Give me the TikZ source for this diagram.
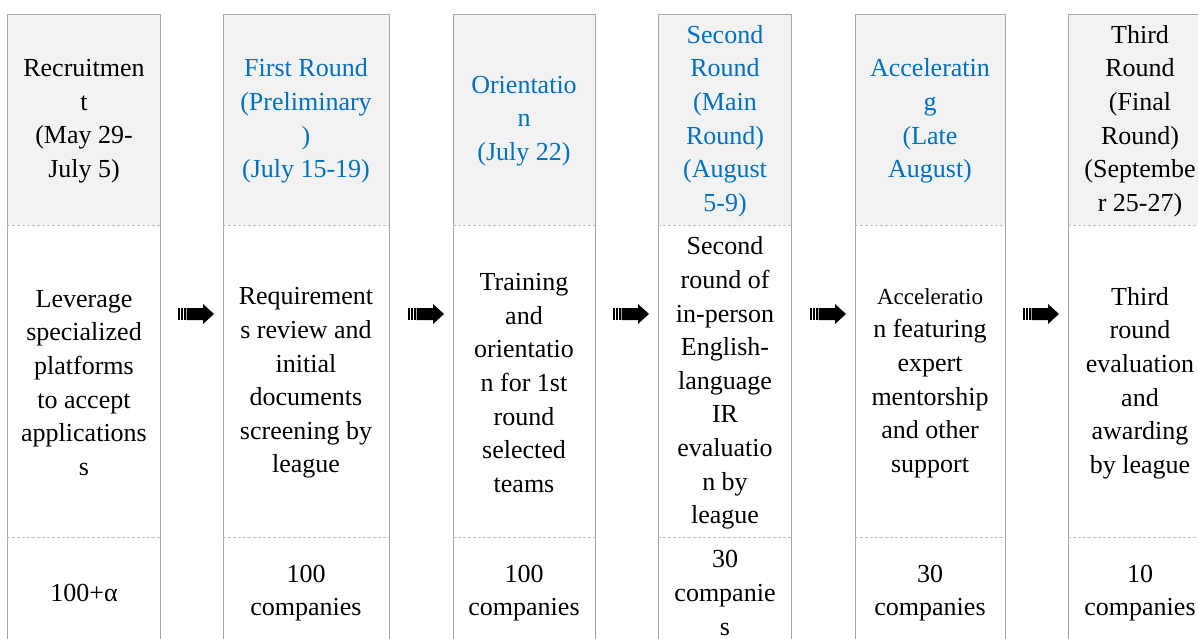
\documentclass[tikz,border=0pt]{standalone}
\usepackage{fontspec}
\setmainfont{Liberation Serif}
\definecolor{framegray}{HTML}{A6A6A6}
\definecolor{headfill}{HTML}{F2F2F2}
\definecolor{stageblue}{HTML}{0070C0}
\tikzset{
  frame/.style={draw=framegray, line width=1pt},
  sepline/.style={draw=framegray!70, line width=0.8pt, densely dashed},
  celltext/.style={align=center, inner sep=0pt,
                   font=\fontsize{26}{33.6}\selectfont},
  bluetext/.style={celltext, text=stageblue},
  stripearrow/.pic={
    \fill (-18,-6) rectangle (-16.5,6);
    \fill (-15,-6) rectangle (-13.5,6);
    \fill (-12,-6) rectangle (-10.5,6);
    \fill (-9.5,-6) -- (7,-6) -- (7,-10) -- (18,0) -- (7,10) -- (7,6)
          -- (-9.5,6) -- cycle;
  }
}
\begin{document}
\begin{tikzpicture}[x=1pt, y=-1pt]
	\useasboundingbox (0,0) rectangle (1198,639);
	% column frames
	\foreach \xl/\xr in {7/160, 223/389, 453/595, 658/791, 855/1005} {
		\fill[headfill] (\xl,15) rectangle (\xr,225);
		\draw[frame] (\xl,639) -- (\xl,15) -- (\xr,15) -- (\xr,639);
		\draw[sepline] (\xl,225) -- (\xr,225);
		\draw[sepline] (\xl,537) -- (\xr,537);
	}
	\fill[headfill] (1068,15) rectangle (1198,225);
	\draw[frame] (1068,639) -- (1068,15) -- (1198,15);
	\draw[sepline] (1068,225) -- (1198,225);
	\draw[sepline] (1068,537) -- (1198,537);
	% headers
	\node[celltext] (h1) at (84,121) {Recruitmen\\t\\(May 29-\\July 5)};
	\node[bluetext] (h2) at (306,121) {First Round\\(Preliminary\\)\\(July 15-19)};
	\node[bluetext] (h3) at (524,121) {Orientatio\\n\\(July 22)};
	\node[bluetext] (h4) at (725,121) {Second\\Round\\(Main\\Round)\\(August\\5-9)};
	\node[bluetext] (h5) at (930,121) {Acceleratin\\g\\(Late\\August)};
	\node[celltext] (h6) at (1140,121) {Third\\Round\\(Final\\Round)\\(Septembe\\r 25-27)};
	% descriptions
	\node[celltext] (b1) at (84,383) {Leverage\\specialized\\platforms\\to accept\\applications\\s};
	\node[celltext] (b2) at (306,383) {Requirement\\s review and\\initial\\documents\\screening by\\league};
	\node[celltext] (b3) at (524,383) {Training\\and\\orientatio\\n for 1st\\round\\selected\\teams};
	\node[celltext] (b4) at (725,383) {Second\\round of\\in-person\\English-\\language\\IR\\evaluatio\\n by\\league};
	\node[celltext] (b5) at (930,383) {{\fontsize{23}{33.6}\selectfont Acceleratio}\\n featuring\\expert\\mentorship\\and other\\support};
	\node[celltext] (b6) at (1140,383) {Third\\round\\evaluation\\and\\awarding\\by league};
	% counts
	\node[celltext] (n1) at (84,593) {100+α};
	\node[celltext] (n2) at (306,593) {100\\companies};
	\node[celltext] (n3) at (524,593) {100\\companies};
	\node[celltext] (n4) at (725,593) {30\\companie\\s};
	\node[celltext] (n5) at (930,593) {30\\companies};
	\node[celltext] (n6) at (1140,593) {10\\companies};
	% arrows between stages
	\pic at (196,314) {stripearrow};
	\pic at (426,314) {stripearrow};
	\pic at (631,314) {stripearrow};
	\pic at (828,314) {stripearrow};
	\pic at (1041,314) {stripearrow};
\end{tikzpicture}
\end{document}
